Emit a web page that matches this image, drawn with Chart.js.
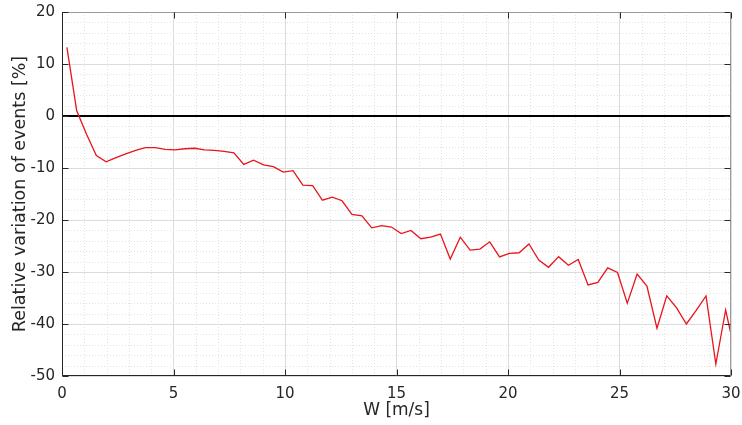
<!DOCTYPE html>
<html>
<head>
<meta charset="utf-8">
<script src="https://cdn.jsdelivr.net/npm/chart.js@4/dist/chart.umd.min.js"></script>
<style>
  html, body { margin: 0; padding: 0; background: #fff; }
  #wrap { width: 742px; height: 425px; position: relative; }
</style>
</head>
<body>
<div id="wrap"><canvas id="c"></canvas></div>
<script>
// Wind speed bins [m/s]
const windSpeed = [
  0.22, 0.66, 1.10, 1.54, 1.98, 2.42, 2.86, 3.30, 3.74, 4.18,
  4.63, 5.07, 5.51, 5.95, 6.39, 6.83, 7.27, 7.71, 8.15, 8.59,
  9.04, 9.48, 9.92, 10.36, 10.80, 11.24, 11.68, 12.12, 12.56, 13.00,
  13.45, 13.89, 14.33, 14.77, 15.21, 15.65, 16.09, 16.53, 16.97, 17.41,
  17.86, 18.30, 18.74, 19.18, 19.62, 20.06, 20.50, 20.94, 21.38, 21.82,
  22.27, 22.71, 23.15, 23.59, 24.03, 24.47, 24.91, 25.35, 25.79, 26.23,
  26.68, 27.12, 27.56, 28.00, 28.44, 28.88, 29.32, 29.76, 30.20
];

// Relative variation of events [%]
const relVariation = [
  13.2, 1.0, -3.5, -7.6, -8.8, -8.0, -7.3, -6.6, -6.1, -6.1,
  -6.4, -6.5, -6.3, -6.2, -6.5, -6.6, -6.8, -7.1, -9.3, -8.5,
  -9.4, -9.75, -10.8, -10.5, -13.3, -13.4, -16.2, -15.6, -16.3, -18.9,
  -19.2, -21.5, -21.1, -21.35, -22.6, -22.0, -23.6, -23.3, -22.7, -27.5,
  -23.3, -25.8, -25.6, -24.2, -27.1, -26.4, -26.3, -24.6, -27.7, -29.1,
  -27.05, -28.7, -27.6, -32.5, -32.0, -29.2, -30.1, -36.0, -30.4, -32.7,
  -40.8, -34.6, -36.9, -40.0, -37.4, -34.6, -47.7, -37.3, -45.9
];

// Reference line at zero
const zeroLineX = [0, 30];
const zeroLineY = [0, 0];

// Axis ranges and tick steps
const xRange = [0, 30];
const yRange = [-50, 20];
const xMajorStep = 5, xMinorStep = 1;
const yMajorStep = 10, yMinorStep = 2;

const textColor = '#262626';
const fontFamily = '"DejaVu Sans", sans-serif';

// Dotted minor grid, drawn beneath the major grid
const minorGrid = {
  id: 'minorGrid',
  beforeDraw(chart) {
    const { ctx, chartArea: a, scales: { x, y } } = chart;
    ctx.save();
    ctx.strokeStyle = '#e3e3e3';
    ctx.lineWidth = 1;
    ctx.setLineDash([1, 2]);
    for (let v = xRange[0]; v <= xRange[1]; v += xMinorStep) {
      if (v % xMajorStep === 0) continue;
      const px = Math.round(x.getPixelForValue(v)) + 0.5;
      ctx.beginPath(); ctx.moveTo(px, a.top); ctx.lineTo(px, a.bottom); ctx.stroke();
    }
    for (let v = yRange[0]; v <= yRange[1]; v += yMinorStep) {
      if (v % yMajorStep === 0) continue;
      const py = Math.round(y.getPixelForValue(v)) + 0.5;
      ctx.beginPath(); ctx.moveTo(a.left, py); ctx.lineTo(a.right, py); ctx.stroke();
    }
    ctx.restore();
  }
};

// Box around the axes with inward tick marks
const axesBox = {
  id: 'axesBox',
  afterDraw(chart) {
    const { ctx, chartArea: a, scales: { x, y } } = chart;
    const L = Math.round(a.left) + 0.5, R = Math.round(a.right) - 0.5;
    const T = Math.round(a.top) + 0.5, B = Math.round(a.bottom) - 0.5;
    const len = 6;
    ctx.save();
    ctx.lineWidth = 1;
    // top and right edges are lighter
    ctx.strokeStyle = '#9a9a9a';
    ctx.beginPath();
    ctx.moveTo(L, T); ctx.lineTo(R, T); ctx.lineTo(R, B);
    ctx.stroke();
    ctx.strokeStyle = textColor;
    ctx.beginPath();
    ctx.moveTo(L, T); ctx.lineTo(L, B); ctx.lineTo(R, B);
    for (let v = xRange[0]; v <= xRange[1]; v += xMajorStep) {
      const px = Math.round(x.getPixelForValue(v)) + 0.5;
      ctx.moveTo(px, B); ctx.lineTo(px, B - len);
      ctx.moveTo(px, T); ctx.lineTo(px, T + len);
    }
    for (let v = yRange[0]; v <= yRange[1]; v += yMajorStep) {
      const py = Math.round(y.getPixelForValue(v)) + 0.5;
      ctx.moveTo(L, py); ctx.lineTo(L + len, py);
      ctx.moveTo(R, py); ctx.lineTo(R - len, py);
    }
    ctx.stroke();
    ctx.restore();
  }
};

new Chart(document.getElementById('c'), {
  type: 'line',
  data: {
    datasets: [
      {
        data: windSpeed.map((w, i) => ({ x: w, y: relVariation[i] })),
        borderColor: '#e8141a',
        borderWidth: 1.3,
        pointRadius: 0,
        tension: 0,
        fill: false,
        clip: 0,
        order: 1
      },
      {
        data: zeroLineX.map((w, i) => ({ x: w, y: zeroLineY[i] })),
        borderColor: '#000000',
        borderWidth: 2,
        pointRadius: 0,
        fill: false,
        clip: 0,
        order: 2
      }
    ]
  },
  options: {
    responsive: true,
    maintainAspectRatio: false,
    animation: false,
    events: [],
    layout: { padding: { top: 12, right: 11, left: 0, bottom: 0 } },
    plugins: { legend: { display: false }, tooltip: { enabled: false } },
    scales: {
      x: {
        type: 'linear',
        min: xRange[0], max: xRange[1],
        afterFit(s) { s.height = 49; s.paddingLeft = 0; s.paddingRight = 0; },
        border: { display: false },
        grid: { color: '#dcdcdc', lineWidth: 1, drawTicks: false },
        ticks: {
          stepSize: xMajorStep, color: textColor, padding: 9, maxRotation: 0,
          font: { family: fontFamily, size: 15 }
        },
        title: {
          display: true, text: 'W [m/s]', color: textColor,
          font: { family: fontFamily, size: 17 }, padding: { top: 0, bottom: 4 }
        }
      },
      y: {
        type: 'linear',
        min: yRange[0], max: yRange[1],
        afterFit(s) { s.width = 62; s.paddingTop = 0; s.paddingBottom = 0; },
        border: { display: false },
        grid: { color: '#dcdcdc', lineWidth: 1, drawTicks: false },
        ticks: {
          stepSize: yMajorStep, color: textColor, padding: 7,
          font: { family: fontFamily, size: 15 }
        },
        title: {
          display: true, text: 'Relative variation of events [%]', color: textColor,
          font: { family: fontFamily, size: 17.5 }, padding: { top: 10, bottom: 0 }
        }
      }
    }
  },
  plugins: [minorGrid, axesBox]
});
</script>
</body>
</html>
